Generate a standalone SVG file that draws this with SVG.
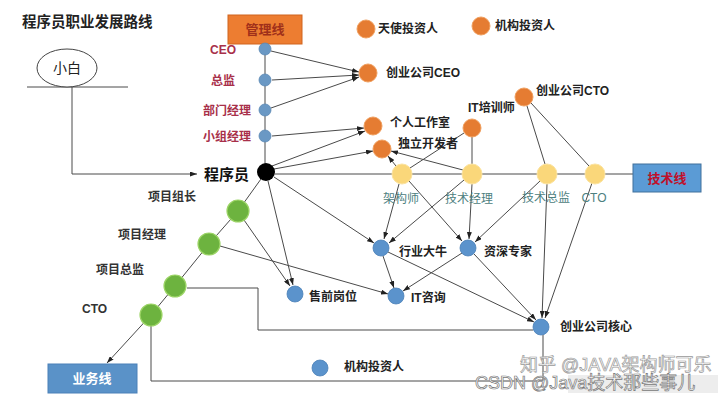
<svg xmlns="http://www.w3.org/2000/svg" width="720" height="400" viewBox="0 0 720 400">
<defs>
<marker id="arr" markerWidth="7" markerHeight="5" refX="7" refY="2.5" orient="auto" markerUnits="userSpaceOnUse">
<path d="M0,0 L7,2.5 L0,5 z" fill="#222"/>
</marker>
<style>
text{font-family:"Liberation Sans","Noto Sans CJK SC",sans-serif;}
.t{font-size:12px;font-weight:bold;fill:#222;}
.m{font-size:12px;font-weight:bold;fill:#a8304a;text-anchor:end;}
.y{font-size:12px;fill:#4d8080;text-anchor:middle;}
.g{font-size:12px;font-weight:bold;fill:#333;}
.c{fill:none;stroke:#4a4a4a;stroke-width:1;}
.a{fill:none;stroke:#4a4a4a;stroke-width:1;marker-end:url(#arr);}
.nb{fill:#5b93cc;stroke:#4a80b8;stroke-width:0.8;}
.nm{fill:#6a98c4;stroke:#5a88b4;stroke-width:0.8;}
.no{fill:#e57c32;stroke:#f0a060;stroke-width:1;}
.ny{fill:#fad77a;stroke:#fbe3a0;stroke-width:1;}
.ng{fill:#6db33f;stroke:#9cd466;stroke-width:1.2;}
.wm{font-size:18px;fill:#fff;stroke:#999;stroke-width:0.7;}
</style>
</defs>
<rect width="720" height="400" fill="#ffffff"/>
<text x="22" y="27" font-size="14.5" font-weight="bold" fill="#222">程序员职业发展路线</text>

<g id="connectors">
<path class="c" d="M27,87 H128"/>
<path class="a" d="M72,87 V174 H197"/>
<path class="c" d="M265,44 V172"/>
<path class="a" d="M271,51 L359,72"/>
<path class="a" d="M272,80 L359,75"/>
<path class="a" d="M271,108 L359,77"/>
<path class="a" d="M272,136 L364,128"/>
<path class="a" d="M272,166 L365,131"/>
<path class="a" d="M274,169 L373,151"/>
<path class="c" d="M275,174 H633"/>
<path class="a" d="M396,166 L388,156"/>
<path class="a" d="M463,170 L391,151"/>
<path class="c" d="M410,168 L464,133"/>
<path class="c" d="M472,164 L472,137"/>
<path class="c" d="M527,106 L545,164"/>
<path class="c" d="M531,103 L589,166"/>
<path class="a" d="M399,184 L384,239"/>
<path class="a" d="M464,180 L389,243"/>
<path class="a" d="M409,181 L462,241"/>
<path class="a" d="M472,184 L469,239"/>
<path class="a" d="M540,181 L475,242"/>
<path class="a" d="M547,184 L542,318"/>
<path class="a" d="M592,183 L545,318"/>
<path class="a" d="M274,177 L374,243"/>
<path class="a" d="M268,181 L293,285"/>
<path class="a" d="M244,220 L290,286"/>
<path class="a" d="M220,246 L388,294"/>
<path class="a" d="M383,256 L394,288"/>
<path class="a" d="M462,253 L403,291"/>
<path class="a" d="M388,252 L534,322"/>
<path class="a" d="M474,254 L536,320"/>
<path class="a" d="M266,172 L238,211 L209,244 L175,286 L151,315 L107,363"/>
<path class="c" d="M187,288 H258 V330 H533"/>
<path class="c" d="M151,325 V381 H543 V335"/>
</g>

<g id="xiaobai"><ellipse cx="67" cy="68" rx="30" ry="19" fill="#fff" stroke="#444" stroke-width="1"/><text x="67" y="73" font-size="14" fill="#222" text-anchor="middle">小白</text></g>
<g id="chengxuyuan"><circle cx="266" cy="172" r="9" fill="#000"/><text x="204" y="180" font-size="15" font-weight="bold" fill="#111">程序员</text></g>

<g id="guanlixian"><rect x="228" y="15" width="74" height="29" fill="#ed7d31" stroke="#d0651e" stroke-width="1"/><text x="265" y="34" font-size="13" font-weight="bold" fill="#a0301a" text-anchor="middle">管理线</text></g>
<g id="m-ceo"><circle class="nm" cx="265" cy="49" r="6"/><text class="m" x="236" y="54" font-size="11">CEO</text></g>
<g id="m-zongjian"><circle class="nm" cx="265" cy="80" r="6"/><text class="m" x="235" y="85">总监</text></g>
<g id="m-bumen"><circle class="nm" cx="265" cy="110" r="6"/><text class="m" x="251" y="115">部门经理</text></g>
<g id="m-xiaozu"><circle class="nm" cx="265" cy="136" r="6"/><text class="m" x="251" y="141">小组经理</text></g>

<g id="o-tianshi"><circle class="no" cx="366" cy="29" r="9"/><text class="t" x="378" y="33">天使投资人</text></g>
<g id="o-jigou"><circle class="no" cx="481" cy="26" r="9"/><text class="t" x="495" y="30">机构投资人</text></g>
<g id="o-ceo"><circle class="no" cx="368" cy="73" r="9"/><text class="t" x="386" y="77">创业公司CEO</text></g>
<g id="o-gongzuoshi"><circle class="no" cx="373" cy="126" r="9"/><text class="t" x="390" y="127">个人工作室</text></g>
<g id="o-duli"><circle class="no" cx="382" cy="149" r="9"/><text class="t" x="398" y="148">独立开发者</text></g>
<g id="o-peixun"><circle class="no" cx="472" cy="128" r="9"/><text class="t" x="468" y="112">IT培训师</text></g>
<g id="o-cto"><circle class="no" cx="524" cy="97" r="9"/><text class="t" x="536" y="95">创业公司CTO</text></g>

<g id="jishuxian"><rect x="633" y="164" width="68" height="28" fill="#5b9bd5" stroke="#41719c" stroke-width="1"/><text x="667" y="183" font-size="13" font-weight="bold" fill="#c0102a" text-anchor="middle">技术线</text></g>
<g id="y-jiagou"><circle class="ny" cx="402" cy="174" r="10"/><text class="y" x="401" y="203">架构师</text></g>
<g id="y-jingli"><circle class="ny" cx="472" cy="174" r="10"/><text class="y" x="469" y="203">技术经理</text></g>
<g id="y-zongjian"><circle class="ny" cx="547" cy="174" r="10"/><text class="y" x="546" y="202">技术总监</text></g>
<g id="y-cto"><circle class="ny" cx="595" cy="174" r="10"/><text class="y" x="594" y="202" font-size="11">CTO</text></g>

<g id="b-daniu"><circle class="nb" cx="381" cy="248" r="8"/><text class="t" x="399" y="256">行业大牛</text></g>
<g id="b-zhuanjia"><circle class="nb" cx="468" cy="248" r="8"/><text class="t" x="484" y="256">资深专家</text></g>
<g id="b-shouqian"><circle class="nb" cx="295" cy="294" r="8"/><text class="t" x="309" y="301">售前岗位</text></g>
<g id="b-zixun"><circle class="nb" cx="396" cy="296" r="8"/><text class="t" x="411" y="302">IT咨询</text></g>
<g id="b-hexin"><circle class="nb" cx="541" cy="327" r="8"/><text class="t" x="560" y="331">创业公司核心</text></g>
<g id="b-jigou"><circle class="nb" cx="320" cy="368" r="8"/><text class="t" x="344" y="371">机构投资人</text></g>

<g id="g-zuzhang"><circle class="ng" cx="238" cy="211" r="11"/><text class="g" x="148" y="201">项目组长</text></g>
<g id="g-jingli"><circle class="ng" cx="209" cy="244" r="11"/><text class="g" x="118" y="239">项目经理</text></g>
<g id="g-zongjian"><circle class="ng" cx="175" cy="286" r="11"/><text class="g" x="96" y="274">项目总监</text></g>
<g id="g-cto"><circle class="ng" cx="151" cy="315" r="11"/><text class="g" x="82" y="313" font-size="11">CTO</text></g>
<g id="yewuxian"><rect x="48" y="364" width="89" height="29" fill="#5a92c8" stroke="#4a80b8" stroke-width="1"/><text x="92" y="383" font-size="13" font-weight="bold" fill="#fff" text-anchor="middle">业务线</text></g>

<text class="wm" x="520" y="371">知乎 @JAVA架构师可乐</text>
<rect x="568" y="375" width="150" height="18" fill="#888" opacity="0.15"/>
<text class="wm" x="475" y="389" style="stroke:#777">CSDN @Java技术那些事儿</text>
</svg>
